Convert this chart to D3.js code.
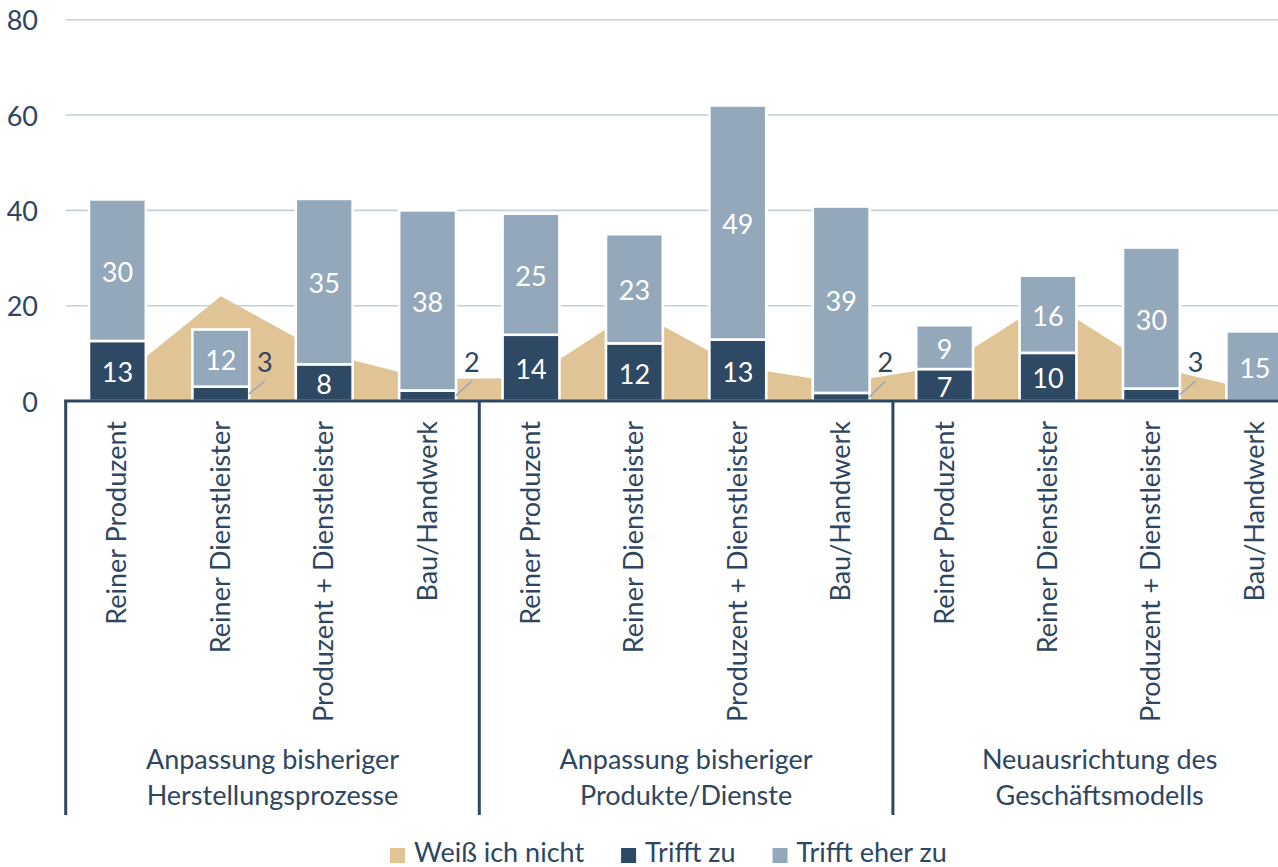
<!DOCTYPE html>
<html>
<head>
<meta charset="utf-8">
<script src="https://cdn.jsdelivr.net/npm/d3@7"></script>
<style>
  body { margin: 0; background: #fff; }
  text { font-family: Lato, "Open Sans", sans-serif; }
</style>
</head>
<body>
<div id="chart"></div>
<script>
// data
const categories = ["Reiner Produzent", "Reiner Dienstleister", "Produzent + Dienstleister", "Bau/Handwerk"];
const groups = [
  ["Anpassung bisheriger", "Herstellungsprozesse"],
  ["Anpassung bisheriger", "Produkte/Dienste"],
  ["Neuausrichtung des", "Geschäftsmodells"]
];
const trifftZu     = [12.6, 3.0, 7.7, 2.2, 13.9, 12.1, 12.9, 1.7, 6.7, 10.1, 2.6, 0];
const trifftEherZu = [29.7, 12.0, 34.7, 37.8, 25.4, 22.9, 49.1, 39.1, 9.2, 16.2, 29.6, 14.6];
const weissNicht   = [4.4, 22, 10, 4.6, 4.8, 19, 7.2, 3.8, 7.3, 21, 7.3, 2.2];
const yTicks = [0, 20, 40, 60, 80];
const legendItems = ["Weiß ich nicht", "Trifft zu", "Trifft eher zu"];

const W = 1278, H = 867;
const navy = "#2e4964", light = "#94a8bb", tan = "#e0c495", textCol = "#2e4661";
const fontSize = 27;

const rows = [];
groups.forEach((g, gi) => categories.forEach((c, ci) => {
  const i = gi * categories.length + ci;
  rows.push({i, cat: c, group: gi, zu: trifftZu[i], eher: trifftEherZu[i], weiss: weissNicht[i]});
}));

const svg = d3.select("#chart").append("svg")
  .attr("width", W)
  .attr("height", H);

const x0 = 65.7, step = 103.4;
const x = d3.scaleBand()
  .domain(rows.map(d => d.i))
  .range([x0, x0 + step * rows.length])
  .paddingInner(0.45)
  .paddingOuter(0.225);
const cx = i => x(i) + x.bandwidth() / 2;

const y = d3.scaleLinear().domain([0, 80]).range([401, 19.7]);

// grid
svg.append("g").selectAll("line")
  .data(yTicks.filter(t => t > 0))
  .enter().append("line")
  .attr("x1", x0).attr("x2", W)
  .attr("y1", d => y(d)).attr("y2", d => y(d))
  .attr("stroke", "#c2cfdc")
  .attr("stroke-width", 1.6);

// y tick labels
svg.append("g").selectAll("text")
  .data(yTicks)
  .enter().append("text")
  .attr("x", 38)
  .attr("y", d => y(d))
  .attr("text-anchor", "end")
  .attr("dominant-baseline", "central")
  .attr("font-size", fontSize)
  .attr("fill", textCol)
  .text(d => d);

// Weiß ich nicht as area behind the bars
const area = d3.area()
  .x(d => cx(d.i))
  .y0(y(0))
  .y1(d => y(d.weiss));
svg.append("path")
  .datum(rows)
  .attr("d", area)
  .attr("fill", tan);

// stacked bars
const bars = svg.append("g");
bars.selectAll(".zu")
  .data(rows.filter(d => d.zu > 0))
  .enter().append("rect")
  .attr("class", "zu")
  .attr("x", d => x(d.i))
  .attr("width", x.bandwidth())
  .attr("y", d => y(d.zu))
  .attr("height", d => y(0) - y(d.zu))
  .attr("fill", navy)
  .attr("stroke", "#fff")
  .attr("stroke-width", 2.6);

bars.selectAll(".eher")
  .data(rows)
  .enter().append("rect")
  .attr("class", "eher")
  .attr("x", d => x(d.i))
  .attr("width", x.bandwidth())
  .attr("y", d => y(d.zu + d.eher))
  .attr("height", d => y(d.zu) - y(d.zu + d.eher))
  .attr("fill", light)
  .attr("stroke", "#fff")
  .attr("stroke-width", 2.6);

// axis + group separators
svg.append("line")
  .attr("x1", x0 - 1.5).attr("x2", W)
  .attr("y1", y(0)).attr("y2", y(0))
  .attr("stroke", textCol)
  .attr("stroke-width", 3);

svg.append("g").selectAll("line")
  .data(d3.range(groups.length))
  .enter().append("line")
  .attr("x1", g => x0 + g * step * categories.length)
  .attr("x2", g => x0 + g * step * categories.length)
  .attr("y1", y(0)).attr("y2", 815)
  .attr("stroke", textCol)
  .attr("stroke-width", 3);

// value labels
const fmt = d3.format(".0f");
const labels = svg.append("g")
  .attr("font-size", fontSize)
  .attr("text-anchor", "middle")
  .attr("dominant-baseline", "central");

labels.selectAll(".lz")
  .data(rows.filter(d => d.zu >= 4))
  .enter().append("text")
  .attr("x", d => cx(d.i))
  .attr("y", d => (y(0) + y(d.zu)) / 2 + 1)
  .attr("fill", "#fff")
  .text(d => fmt(d.zu));

labels.selectAll(".le")
  .data(rows)
  .enter().append("text")
  .attr("x", d => cx(d.i))
  .attr("y", d => (y(d.zu) + y(d.zu + d.eher)) / 2 + 1)
  .attr("fill", "#fff")
  .text(d => fmt(d.eher));

// small values outside with leader line
const small = rows.filter(d => d.zu > 0 && d.zu < 4);
const right = d => x(d.i) + x.bandwidth() - 1.3;
svg.append("g").selectAll("line")
  .data(small)
  .enter().append("line")
  .attr("x1", d => right(d) + 1)
  .attr("y1", d => y(d.zu / 2))
  .attr("x2", d => right(d) + 17)
  .attr("y2", 381)
  .attr("stroke", "#9aa5b1")
  .attr("stroke-width", 1.5);

labels.selectAll(".ls")
  .data(small)
  .enter().append("text")
  .attr("x", d => right(d) + 17)
  .attr("y", 361)
  .attr("fill", textCol)
  .text(d => fmt(d.zu));

// category labels, rotated
svg.append("g").selectAll("text")
  .data(rows)
  .enter().append("text")
  .attr("transform", d => `translate(${cx(d.i) + 9},421) rotate(-90)`)
  .attr("text-anchor", "end")
  .attr("font-size", fontSize)
  .attr("fill", textCol)
  .text(d => d.cat);

// group labels
const gl = svg.append("g").selectAll("text")
  .data(groups)
  .enter().append("text")
  .attr("text-anchor", "middle")
  .attr("font-size", fontSize)
  .attr("fill", textCol);
gl.each(function(g, gi) {
  const gx = x0 + (gi + 0.5) * step * categories.length;
  d3.select(this).selectAll("tspan")
    .data(g)
    .enter().append("tspan")
    .attr("x", gx)
    .attr("y", (d, k) => 769 + k * 36)
    .text(d => d);
});

// legend
const legColors = [tan, navy, light];
const leg = svg.append("g");
let lx = 390;
legendItems.forEach((name, k) => {
  leg.append("rect")
    .attr("x", lx).attr("y", 848)
    .attr("width", 15).attr("height", 15)
    .attr("fill", legColors[k]);
  const t = leg.append("text")
    .attr("x", lx + 24).attr("y", 862)
    .attr("font-size", fontSize)
    .attr("fill", textCol)
    .text(name);
  lx += 24 + t.node().getComputedTextLength() + 37;
});
</script>
</body>
</html>
